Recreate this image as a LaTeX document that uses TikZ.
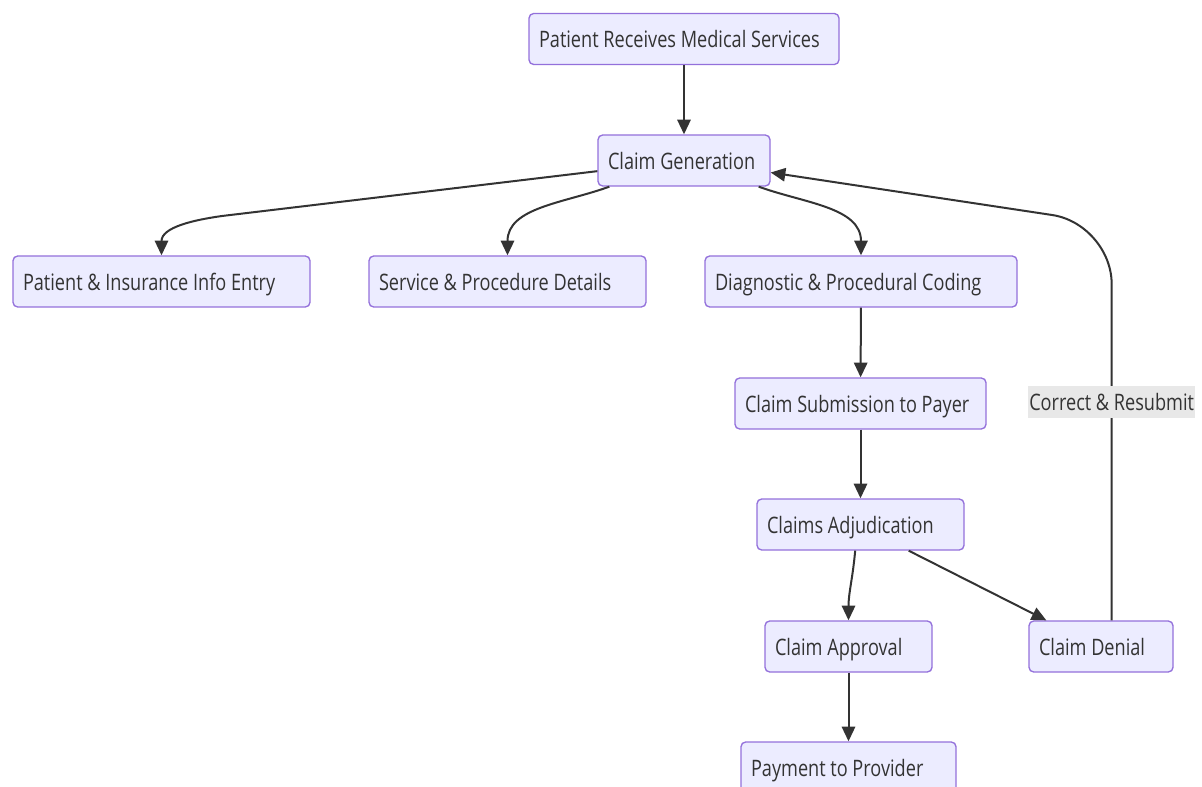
\documentclass[tikz,border=0pt]{standalone}
\usepackage{fontspec}
\setmainfont{Open Sans}[FakeStretch=0.8]
\usetikzlibrary{arrows.meta}
\definecolor{boxF}{RGB}{236,236,255}
\definecolor{boxB}{RGB}{147,112,219}
\definecolor{ink}{RGB}{51,51,51}
\definecolor{lblBg}{RGB}{232,232,232}

\begin{document}
\begin{tikzpicture}[x=0.75pt,y=-0.75pt,>={Triangle[length=11pt,width=10pt]},
  box/.style={draw=boxB,fill=boxF,line width=1pt,rounded corners=3.5pt,text=ink,
    minimum height=38.25pt,inner ysep=0pt,inner xsep=7.5pt,align=flush left,text width=#1,
    text height=15pt,text depth=2pt,font=\fontsize{17pt}{20pt}\selectfont},
  flow/.style={->,draw=ink,line width=1.5pt},
  lbl/.style={fill=lblBg,text=ink,sharp corners,inner xsep=1pt,inner ysep=0pt,
    minimum height=24pt,font=\fontsize{17pt}{20pt}\selectfont}]
\useasboundingbox (0,0) rectangle (1202,787);
% nodes
\node[box=217.5pt] (recv) at (684,39) {Patient Receives Medical Services};
\node[box=114pt] (gen) at (684,160.5) {Claim Generation};
\node[box=207.75pt] (info) at (161.5,281.5) {Patient \& Insurance Info Entry};
\node[box=192.75pt] (svc) at (507.5,281.5) {Service \& Procedure Details};
\node[box=219pt] (diag) at (861,281.5) {Diagnostic \& Procedural Coding};
\node[box=173.25pt] (sub) at (860.5,403.5) {Claim Submission to Payer};
\node[box=140.25pt] (adj) at (860.5,524.5) {Claims Adjudication};
\node[box=110.25pt] (appr) at (848.5,646.5) {Claim Approval};
\node[box=93pt] (deny) at (1101,646.5) {Claim Denial};
\node[box=146.25pt] (pay) at (848.5,767.5) {Payment to Provider};
\coordinate (bendL) at (222,216);
% edges
\draw[flow] (recv) -- (gen);
\draw[flow] ([yshift=-8pt]gen.west) -- (bendL) to[out=188,in=90] (info.north);
\draw[flow] ([xshift=9pt]gen.south west) to[out=200,in=90] (svc.north);
\draw[flow] ([xshift=-9pt]gen.south east) to[out=340,in=90] (diag.north);
\draw[flow] (diag) -- (sub);
\draw[flow] (sub) -- (adj);
\draw[flow] ([xshift=-4pt]adj.south) to[out=265,in=90] (appr.north);
\draw[flow] ([xshift=-42pt]adj.south east) -- ([xshift=13.5pt]deny.north west);
\draw[flow] (appr) -- (pay);
% back loop
\draw[flow,rounded corners=45pt] ([xshift=8pt]deny.north)
  -- node[lbl,pos=0.55]{Correct \& Resubmit} ([xshift=8pt]deny.north |- 0,224)
  -- ([yshift=-9pt]gen.east);
\end{tikzpicture}
\end{document}
